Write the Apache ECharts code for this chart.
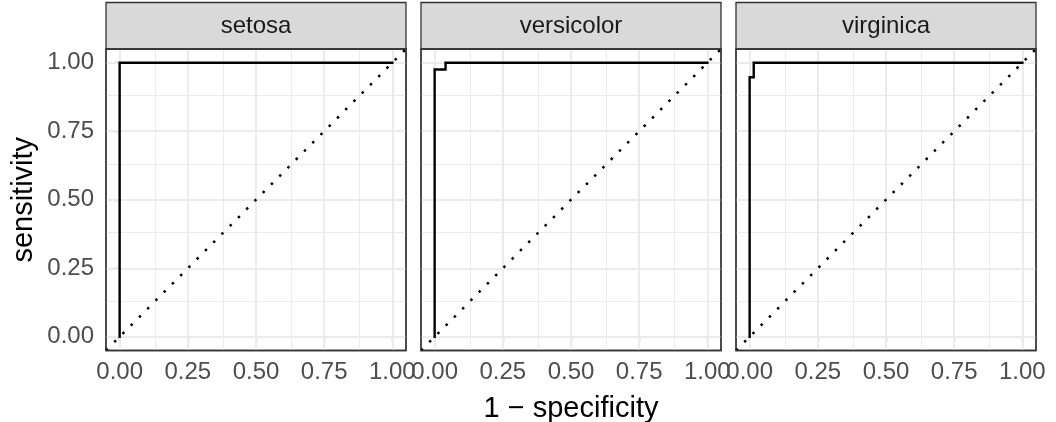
<!DOCTYPE html>
<html>
<head>
<meta charset="utf-8">
<script src="https://cdn.jsdelivr.net/npm/echarts@6/dist/echarts.min.js"></script>
<style>html,body{margin:0;padding:0;background:#fff}#c{width:1056px;height:422px}</style>
</head>
<body>
<div id="c"></div>
<script>
// ---- data ----
const panels = ['setosa', 'versicolor', 'virginica'];
const fprSetosa = [0, 0, 1];
const tprSetosa = [0, 1, 1];
const fprVersicolor = [0, 0, 0.04, 0.04, 1];
const tprVersicolor = [0, 0.975, 0.975, 1, 1];
const fprVirginica = [0, 0, 0.015, 0.015, 1];
const tprVirginica = [0, 0.947, 0.947, 1, 1];
const diagX = [-0.05, 1.05];
const diagY = [-0.05, 1.05];
const majorTicks = [0, 0.25, 0.5, 0.75, 1];
const minorTicks = [0.125, 0.375, 0.625, 0.875];
const tickLabels = ['0.00', '0.25', '0.50', '0.75', '1.00'];
const xTitle = '1 \u2212 specificity';
const yTitle = 'sensitivity';

const curves = [[fprSetosa, tprSetosa], [fprVersicolor, tprVersicolor], [fprVirginica, tprVirginica]];

// ---- layout ----
const FONT = '"Liberation Sans", Arial, Helvetica, sans-serif';
const lefts = [106, 421, 736];
const W = 300, TOP = 49, H = 301.5;
const chart = echarts.init(document.getElementById('c'), null, {renderer: 'canvas'});

function zip(a, b) { return a.map((v, i) => [v, b[i]]); }
function labelFmt(v) { const i = majorTicks.indexOf(v); return i >= 0 ? tickLabels[i] : ''; }

const grids = [], xAxes = [], yAxes = [], series = [], graphics = [];
panels.forEach((p, k) => {
  grids.push({left: lefts[k], top: TOP, width: W, height: H, show: true,
    borderColor: '#333333', borderWidth: 1.3, backgroundColor: '#fff',
    containLabel: false, outerBoundsMode: 'none'});
  xAxes.push({type: 'value', gridIndex: k, min: -0.05, max: 1.05,
    axisLine: {show: false},
    axisTick: {show: true, length: 5, customValues: majorTicks, lineStyle: {color: '#333333', width: 1.2}},
    axisLabel: {show: true, customValues: majorTicks, formatter: labelFmt, margin: 10,
      color: '#4d4d4d', fontSize: 24, fontFamily: FONT},
    splitLine: {show: false},
    name: k === 1 ? xTitle : '', nameLocation: 'middle', nameGap: 44,
    nameTextStyle: {color: '#000', fontSize: 29, fontFamily: FONT}
  });
  yAxes.push({type: 'value', gridIndex: k, min: -0.05, max: 1.05,
    axisLine: {show: false},
    axisTick: {show: k === 0, length: 5, customValues: majorTicks, lineStyle: {color: '#333333', width: 1.2}},
    axisLabel: {show: k === 0, customValues: majorTicks, formatter: labelFmt, margin: 12,
      color: '#4d4d4d', fontSize: 24, fontFamily: FONT},
    splitLine: {show: false},
    name: k === 0 ? yTitle : '', nameLocation: 'middle', nameGap: 68, nameRotate: 90,
    nameTextStyle: {color: '#000', fontSize: 29, fontFamily: FONT}
  });
  // grid lines
  const ml = [];
  minorTicks.forEach(v => { ml.push({xAxis: v, lineStyle: {color: '#ebebeb', width: 1, type: 'solid'}}); ml.push({yAxis: v, lineStyle: {color: '#ebebeb', width: 1, type: 'solid'}}); });
  majorTicks.forEach(v => { ml.push({xAxis: v, lineStyle: {color: '#ebebeb', width: 2, type: 'solid'}}); ml.push({yAxis: v, lineStyle: {color: '#ebebeb', width: 2, type: 'solid'}}); });
  series.push({type: 'line', xAxisIndex: k, yAxisIndex: k, data: [], z: 1, silent: true,
    markLine: {z: 1, silent: true, symbol: ['none', 'none'], label: {show: false}, animation: false, data: ml}});
  // diagonal
  series.push({type: 'line', xAxisIndex: k, yAxisIndex: k, data: zip(diagX, diagY), z: 2,
    symbol: 'none', silent: true, animation: false,
    lineStyle: {color: '#000', width: 2.5, type: [2.5, 9.2], dashOffset: 0}});
  // roc curve
  series.push({type: 'line', xAxisIndex: k, yAxisIndex: k, data: zip(curves[k][0], curves[k][1]), z: 3,
    symbol: 'none', silent: true, animation: false,
    lineStyle: {color: '#000', width: 2.4, cap: 'square', join: 'miter'}});
  // strip
  graphics.push({type: 'rect', shape: {x: lefts[k], y: 2.5, width: W, height: TOP - 2.5},
    style: {fill: '#d9d9d9', stroke: '#333333', lineWidth: 1.3}, z: 10});
  graphics.push({type: 'text', x: lefts[k] + W / 2, y: 26,
    style: {text: p, fill: '#1a1a1a', font: '24px ' + FONT, textAlign: 'center', textVerticalAlign: 'middle'}, z: 11});
  // panel border on top
  graphics.push({type: 'rect', shape: {x: lefts[k], y: TOP, width: W, height: H},
    style: {fill: 'none', stroke: '#333333', lineWidth: 1.3}, z: 10});
});

chart.setOption({
  animation: false,
  backgroundColor: '#fff',
  grid: grids, xAxis: xAxes, yAxis: yAxes, series: series, graphic: graphics
});
</script>
</body>
</html>
